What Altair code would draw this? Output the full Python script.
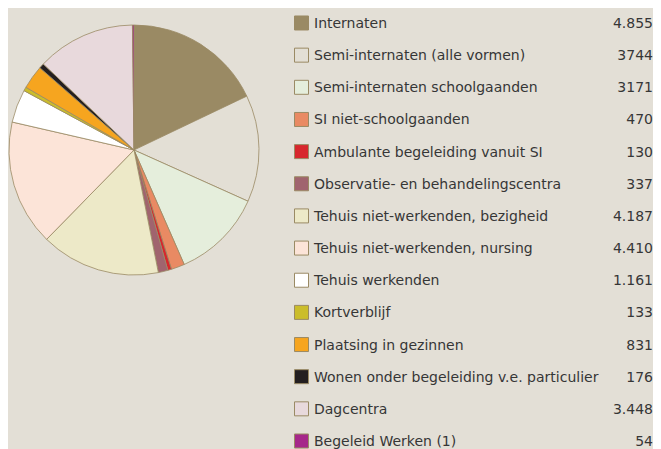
import altair as alt
import pandas as pd

categories = [
    "Internaten",
    "Semi-internaten (alle vormen)",
    "Semi-internaten schoolgaanden",
    "SI niet-schoolgaanden",
    "Ambulante begeleiding vanuit SI",
    "Observatie- en behandelingscentra",
    "Tehuis niet-werkenden, bezigheid",
    "Tehuis niet-werkenden, nursing",
    "Tehuis werkenden",
    "Kortverblijf",
    "Plaatsing in gezinnen",
    "Wonen onder begeleiding v.e. particulier",
    "Dagcentra",
    "Begeleid Werken (1)",
]
values = [4855, 3744, 3171, 470, 130, 337, 4187, 4410, 1161, 133, 831, 176, 3448, 54]
value_labels = ["4.855", "3744", "3171", "470", "130", "337", "4.187", "4.410",
                "1.161", "133", "831", "176", "3.448", "54"]
colors = ["#9a8a64", "#e3dfd5", "#e5eedc", "#e98a63", "#d7272d", "#a0646e",
          "#ede9c8", "#fce4d8", "#ffffff", "#cbbd2b", "#f6a51f", "#231f20",
          "#e8d9dc", "#a6278a"]

df = pd.DataFrame({
    "cat": categories,
    "val": values,
    "lab": value_labels,
    "idx": list(range(len(categories))),
})

BG = "#e3dfd6"
FONT = "DejaVu Sans"
TXT = "#363636"

color = alt.Color("cat:N", scale=alt.Scale(domain=categories, range=colors), legend=None)
yenc = alt.Y("idx:Q", scale=alt.Scale(domain=[-0.4665, 13.249], reverse=True, nice=False, zero=False), axis=None)

pie = alt.Chart(df).mark_arc(outerRadius=125, stroke="#9a8a64", strokeWidth=0.8).encode(
    theta=alt.Theta("val:Q", stack=True),
    order=alt.Order("idx:Q"),
    color=color,
    x=alt.value(126),
    y=alt.value(142),
)

squares = alt.Chart(df).mark_square(size=196, opacity=1, stroke="#9a8a64", strokeWidth=1).encode(
    x=alt.value(293.5),
    y=yenc,
    color=color,
)

labels = alt.Chart(df).mark_text(align="left", baseline="middle", font=FONT, fontSize=14,
                                 color=TXT, dy=1).encode(
    x=alt.value(306),
    y=yenc,
    text="cat:N",
)

nums = alt.Chart(df).mark_text(align="right", baseline="middle", font=FONT, fontSize=14,
                               color=TXT, dy=1).encode(
    x=alt.value(645),
    y=yenc,
    text="lab:N",
)

chart = alt.layer(pie, squares, labels, nums).properties(
    width=645, height=441,
    autosize=alt.AutoSizeParams(type="none"),
    padding=0,
    background=BG,
).configure_view(stroke=None)

chart.save("out.html", embed_options={"renderer": "svg", "actions": False})
